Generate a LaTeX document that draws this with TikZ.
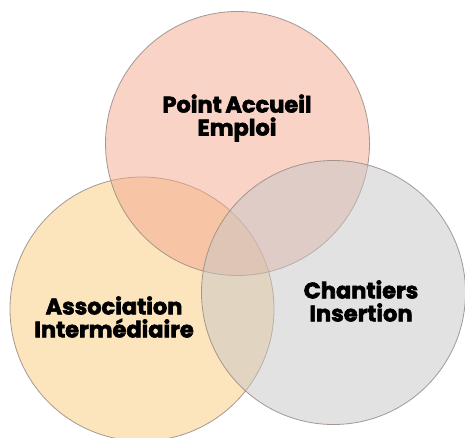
\documentclass[tikz,border=0pt]{standalone}
\usepackage{fontspec}
\setmainfont{Poppins}[BoldFont={* Bold}, BoldFeatures={FakeBold=2.5}]
\definecolor{topc}{HTML}{F2A78E}
\definecolor{leftc}{HTML}{F9C97A}
\definecolor{rightc}{HTML}{C6C6C6}
\definecolor{edge}{HTML}{9C8F86}
\tikzset{
  venn/.style={circle, draw=edge, line width=0.8pt, fill opacity=0.5, draw opacity=0.9, minimum size=264pt, inner sep=0pt},
  lbl/.style={font=\bfseries\fontsize{22.5}{23}\selectfont, align=center, text=black}
}
\begin{document}
\begin{tikzpicture}[x=1pt,y=1pt]
\useasboundingbox (0,0) rectangle (465,437);
\node[venn, fill=leftc] (ai) at (142,128) {};
\node[venn, fill=topc] (pae) at (237.5,293.5) {};
\node[venn, fill=rightc] (ci) at (333.5,144.5) {};
\node[lbl] (tpae) at (237,319) {Point\hspace{-0.05em} Accueil\\Emploi};
\node[lbl] (tai) at (114,120) {Association\\Intermédiaire};
\node[lbl] (tci) at (361,136) {Chantiers\\Insertion};
\end{tikzpicture}
\end{document}
